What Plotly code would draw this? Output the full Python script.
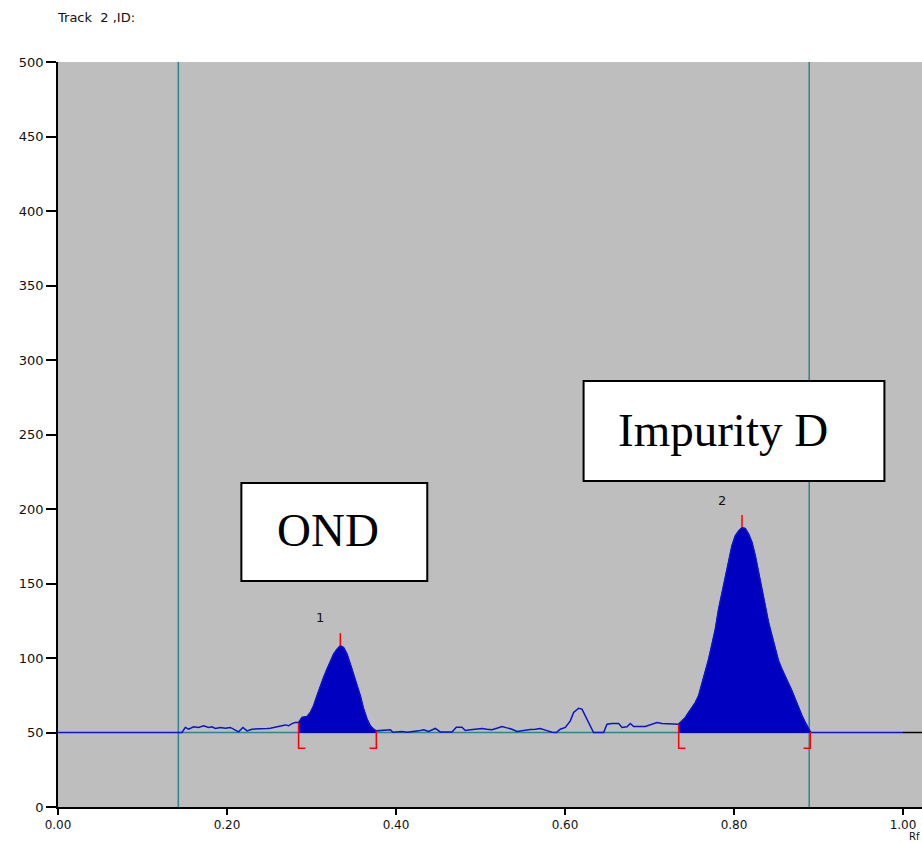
import plotly.graph_objects as go

# Densitometric scan of track 2: Rf position vs. detector response (AU)
rf = [
    0.0000, 0.1424, 0.1467, 0.1507, 0.1546, 0.1605, 0.1664, 0.1723, 0.1782, 0.1822,
    0.1862, 0.1921, 0.1980, 0.2039, 0.2086, 0.2137, 0.2189, 0.2237, 0.2296, 0.2414,
    0.2473, 0.2512, 0.2572, 0.2631, 0.2690, 0.2729, 0.2769, 0.2808,
    # peak 1
    0.2847, 0.2888, 0.2947, 0.2986, 0.3025, 0.3065, 0.3104, 0.3143, 0.3183, 0.3222,
    0.3262, 0.3302, 0.3341, 0.3380, 0.3420, 0.3459, 0.3498, 0.3538, 0.3578, 0.3617,
    0.3657, 0.3696, 0.3735, 0.3767,
    # inter-peak region
    0.3834, 0.3873, 0.3933, 0.3964, 0.4012, 0.4071, 0.4130, 0.4189, 0.4268, 0.4327,
    0.4386, 0.4465, 0.4524, 0.4663, 0.4714, 0.4781, 0.4820, 0.4879, 0.4958, 0.5018,
    0.5077, 0.5136, 0.5195, 0.5254, 0.5314, 0.5373, 0.5432, 0.5491, 0.5589, 0.5649,
    0.5708, 0.5767, 0.5846, 0.5897, 0.5944, 0.6004, 0.6063, 0.6102, 0.6161, 0.6201,
    0.6240, 0.6280, 0.6338, 0.6457, 0.6497, 0.6556, 0.6635, 0.6675, 0.6734, 0.6773,
    0.6812, 0.6950, 0.7009, 0.7089, 0.7148, 0.7207, 0.7266, 0.7325,
    # peak 2
    0.7345, 0.7385, 0.7424, 0.7463, 0.7503, 0.7542, 0.7581, 0.7621, 0.7660, 0.7700,
    0.7740, 0.7779, 0.7818, 0.7858, 0.7897, 0.7936, 0.7976, 0.8015, 0.8055, 0.8095,
    0.8134, 0.8173, 0.8213, 0.8252, 0.8291, 0.8331, 0.8370, 0.8409, 0.8449, 0.8488,
    0.8527, 0.8567, 0.8606, 0.8645, 0.8685, 0.8724, 0.8763, 0.8805, 0.8844, 0.8883,
    0.8903,
    # tail
    0.8910, 1.0000,
]
signal = [
    50.0, 50.0, 50.0, 53.4, 52.2, 53.8, 53.4, 54.5, 53.4, 53.8,
    52.7, 53.4, 52.9, 53.4, 52.2, 50.4, 53.4, 51.1, 52.2, 52.2,
    52.7, 52.9, 53.8, 54.5, 55.1, 54.5, 56.0, 56.7,
    56.7, 60.1, 60.7, 63.4, 67.9, 74.6, 81.3, 86.9, 92.5, 98.1,
    102.6, 105.9, 108.2, 107.0, 102.6, 95.9, 89.1, 81.3, 74.6, 65.7,
    59.0, 54.5, 52.2, 51.1,
    51.3, 51.8, 51.8, 50.2, 50.4, 50.7, 50.2, 50.4, 51.1, 51.8,
    50.7, 52.7, 50.4, 50.4, 53.6, 53.6, 51.3, 51.8, 52.2, 52.7,
    52.2, 51.8, 52.9, 54.0, 53.1, 52.2, 50.7, 51.3, 52.0, 52.2,
    52.7, 51.6, 50.2, 50.0, 52.2, 53.4, 57.8, 63.4, 66.3, 65.7,
    61.2, 55.6, 50.0, 50.0, 55.6, 56.0, 56.0, 53.4, 53.8, 56.0,
    54.0, 54.0, 55.1, 56.7, 56.0, 56.0, 55.6, 56.0,
    55.6, 57.8, 60.1, 63.4, 66.8, 70.1, 74.6, 82.4, 90.3, 99.2,
    109.3, 119.3, 132.8, 144.0, 155.1, 166.3, 175.3, 182.0, 185.3, 187.6,
    186.9, 183.1, 177.5, 168.6, 157.4, 144.0, 132.8, 123.8, 114.9, 105.9,
    98.1, 92.5, 88.0, 83.6, 78.0, 72.4, 66.8, 61.2, 56.7, 52.2,
    50.4,
    50.0, 50.0,
]

baseline = 50.0
window = [0.1424, 0.8890]            # integration window (start, end)
peak_ids = ["1", "2"]
peak_start = [0.2847, 0.7345]
peak_end = [0.3767, 0.8903]
peak_apex_rf = [0.3341, 0.8095]
peak_apex_h = [108.2, 187.6]
peak_marker_top = [116.7, 196.0]
peak_label_pos = [(0.3105, 127.0), (0.7860, 206.0)]
bracket_bottom = 39.4
bracket_arm = 0.0080

box_texts = ["OND", "Impurity D"]
box_x = [(0.217, 0.437), (0.622, 0.978)]
box_y = [(151.7, 217.4), (218.8, 285.9)]
box_text_pos = [(0.3193, 186.0), (0.7870, 253.0)]

x_ticks = [0.0, 0.2, 0.4, 0.6, 0.8, 1.0]
y_ticks = list(range(0, 501, 50))

TEAL = "#33838D"
BLUE = "#0A14C8"
FILL = "#0000C0"
RED = "#FF0000"
X_TICK_FONT = dict(family="DejaVu Sans", size=12, color="#111111")
Y_TICK_FONT = dict(family="DejaVu Sans", size=13, color="#111111")
SMALL_FONT = dict(family="DejaVu Sans", size=13, color="#111111")

fig = go.Figure()

# integration window: two vertical markers and the baseline between them
for xv in window:
    fig.add_trace(go.Scatter(x=[xv, xv], y=[0, 500], mode="lines",
                             line=dict(color=TEAL, width=1.5), hoverinfo="skip"))
fig.add_trace(go.Scatter(x=window, y=[baseline, baseline], mode="lines",
                         line=dict(color=TEAL, width=1.5), hoverinfo="skip"))
fig.add_trace(go.Scatter(x=[1.0, 1.05], y=[baseline, baseline], mode="lines",
                         line=dict(color="black", width=1.5), hoverinfo="skip"))

# filled integrated peak areas
for s, e in zip(peak_start, peak_end):
    px = [x for x in rf if s <= x <= e]
    py = [y for x, y in zip(rf, signal) if s <= x <= e]
    fig.add_trace(go.Scatter(
        x=[s] + px + [e, s], y=[baseline] + py + [baseline, baseline],
        mode="lines", fill="toself", fillcolor=FILL,
        line=dict(color=FILL, width=1), hoverinfo="skip"))

# the scan trace
fig.add_trace(go.Scatter(x=rf, y=signal, mode="lines",
                         line=dict(color=BLUE, width=1.5), hoverinfo="skip"))

# peak boundary brackets and apex markers
for s, e, ax, ah, mt in zip(peak_start, peak_end, peak_apex_rf, peak_apex_h, peak_marker_top):
    ys = signal[rf.index(s)]
    ye = signal[rf.index(e)]
    fig.add_trace(go.Scatter(
        x=[s, s, s + bracket_arm], y=[ys, bracket_bottom, bracket_bottom],
        mode="lines", line=dict(color=RED, width=1.5), hoverinfo="skip"))
    fig.add_trace(go.Scatter(
        x=[e, e, e - bracket_arm], y=[ye, bracket_bottom, bracket_bottom],
        mode="lines", line=dict(color=RED, width=1.5), hoverinfo="skip"))
    fig.add_trace(go.Scatter(
        x=[ax, ax], y=[ah, mt], mode="lines",
        line=dict(color=RED, width=1.5), hoverinfo="skip"))

annotations = []
for pid, (lx, ly) in zip(peak_ids, peak_label_pos):
    annotations.append(dict(x=lx, y=ly, xref="x", yref="y", text=pid, showarrow=False,
                            font=SMALL_FONT))

shapes = []
for (x0, x1), (y0, y1), txt, (tx, ty) in zip(box_x, box_y, box_texts, box_text_pos):
    shapes.append(dict(type="rect", xref="x", yref="y", x0=x0, x1=x1, y0=y0, y1=y1,
                       fillcolor="white", line=dict(color="black", width=2), layer="above"))
    annotations.append(dict(x=tx, y=ty, xref="x", yref="y", text=txt, showarrow=False,
                            font=dict(family="Liberation Serif", size=47, color="black")))

annotations.append(dict(x=0, y=1, xref="paper", yref="paper", xanchor="left",
                        yanchor="bottom", xshift=-3, yshift=35, text="Track  2 ,ID:",
                        showarrow=False, font=SMALL_FONT))
# axis unit label tucked into the bottom-right corner
annotations.append(dict(x=1, y=0, xref="paper", yref="paper", xanchor="right",
                        yanchor="bottom", xshift=-1, yshift=-36, borderpad=0,
                        text="Rf", showarrow=False,
                        font=dict(family="DejaVu Sans", size=10, color="#111111")))

fig.update_layout(
    width=922, height=843,
    margin=dict(l=58, r=0, t=62, b=36, pad=0),
    paper_bgcolor="white",
    plot_bgcolor="#BEBEBE",
    showlegend=False,
    shapes=shapes,
    annotations=annotations,
    xaxis=dict(range=[0, 864 / 845], tickvals=x_ticks, tickformat=".2f",
               showgrid=False, zeroline=False, showline=True, linecolor="black",
               linewidth=1.5, ticks="outside", ticklen=6, tickcolor="black",
               tickwidth=1.5, tickfont=X_TICK_FONT, fixedrange=True),
    yaxis=dict(range=[0, 500], tickvals=y_ticks, showgrid=False, zeroline=False,
               showline=True, linecolor="black", linewidth=1.5, ticks="outside",
               ticklen=10, tickcolor="black", tickwidth=1.5, tickfont=Y_TICK_FONT,
               fixedrange=True),
)

fig.write_html("out.html")
